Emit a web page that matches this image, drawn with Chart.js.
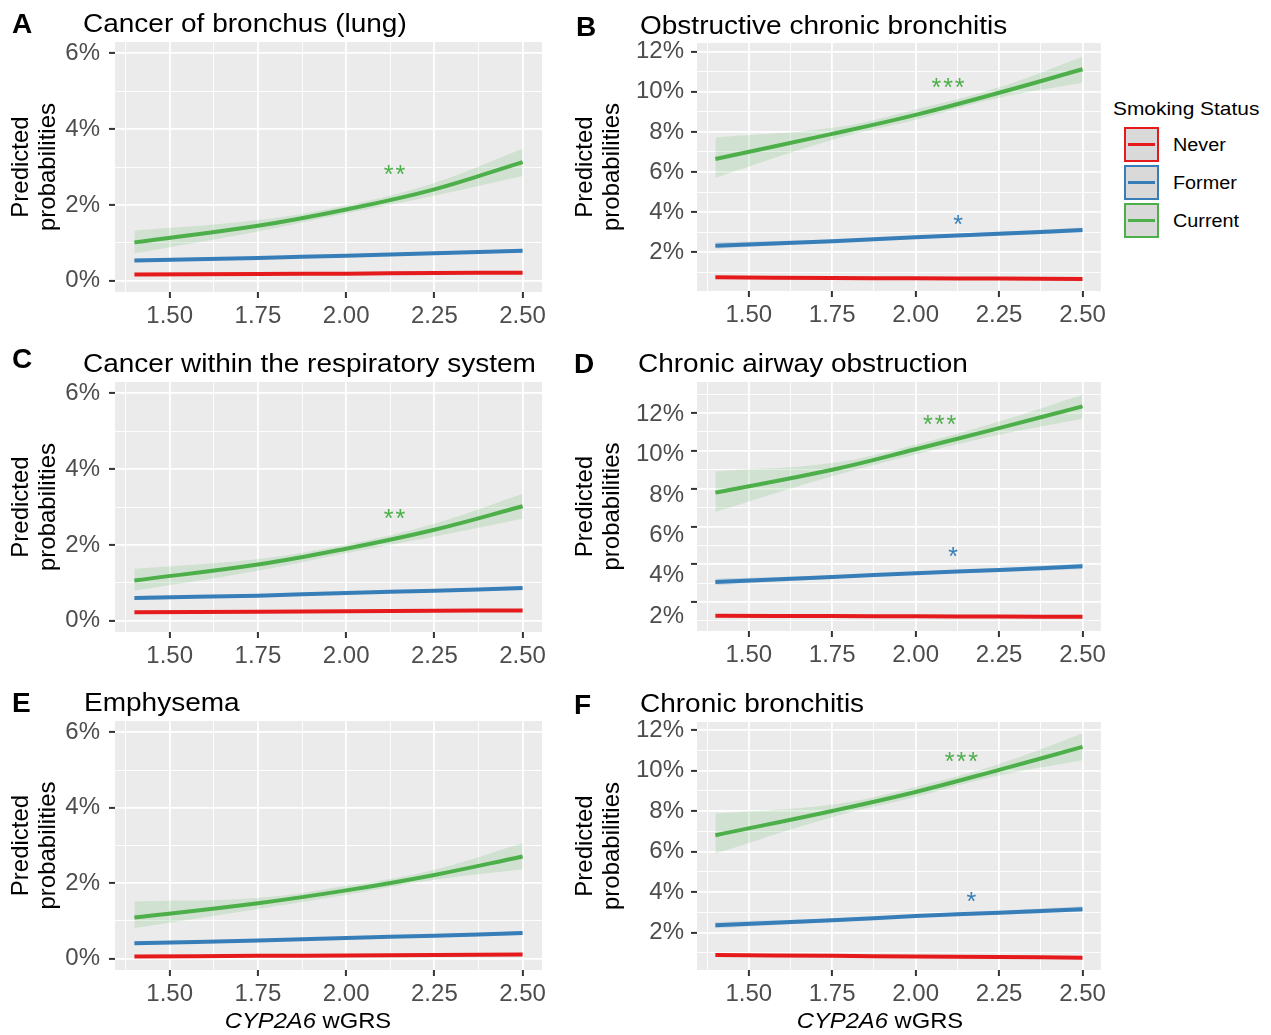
<!DOCTYPE html>
<html>
<head>
<meta charset="utf-8">
<script src="https://cdn.jsdelivr.net/npm/chart.js@4.4.1/dist/chart.umd.min.js"></script>
<style>
  body { margin: 0; background: #fff; width: 1271px; height: 1035px; position: relative; overflow: hidden;
         font-family: 'Liberation Sans', Arial, sans-serif; }
  canvas { position: absolute; }
  .txt { position: absolute; white-space: nowrap; line-height: 1; transform-origin: left center; }
  .letter { font-weight: bold; font-size: 28px; color: #000; transform: translateY(-50%); }
  .ttl { font-size: 25px; color: #000; transform: translateY(-50%) scaleX(1.12); }
  .xttl { font-size: 22px; color: #000; transform-origin: center center; transform: translate(-50%, -50%) scaleX(1.08); }
  .legT { font-size: 19px; color: #000; transform: translateY(-50%) scaleX(1.1); }
  .legL { font-size: 18px; color: #000; transform: translateY(-50%) scaleX(1.1); }
  .key { position: absolute; width: 31px; height: 31px; background: #D9D9D9; border: 2px solid; }
  .key div { position: absolute; left: 2px; right: 2px; top: 14px; height: 3px; }
</style>
</head>
<body>
<script>
// x positions (CYP2A6 wGRS) where the fitted curves were read
const xs = [1.4, 1.75, 2.0, 2.25, 2.5];

// tick values / labels
const xMajor = [1.5, 1.75, 2.0, 2.25, 2.5];
const xMinor = [1.375, 1.625, 1.875, 2.125, 2.375];
const xTickLabels = ['1.50', '1.75', '2.00', '2.25', '2.50'];
const yMajorLow = [0, 2, 4, 6];
const yMinorLow = [1, 3, 5];
const yLabelsLow = ['0%', '2%', '4%', '6%'];
const yMajorHigh = [2, 4, 6, 8, 10, 12];
const yMinorHigh = [1, 3, 5, 7, 9, 11, 13];
const yLabelsHigh = ['2%', '4%', '6%', '8%', '10%', '12%'];

// A - Cancer of bronchus (lung), values in %
const lungNever = [0.16, 0.175, 0.185, 0.20, 0.21];
const lungFormer = [0.53, 0.60, 0.66, 0.72, 0.79];
const lungFormerLo = [0.49, 0.58, 0.64, 0.69, 0.74];
const lungFormerHi = [0.58, 0.63, 0.68, 0.75, 0.84];
const lungCurrent = [1.01, 1.45, 1.88, 2.41, 3.13];
const lungCurrentLo = [0.72, 1.30, 1.77, 2.24, 2.76];
const lungCurrentHi = [1.32, 1.60, 1.99, 2.58, 3.48];
const lungStars = [{ x: 2.14, y: 2.91, text: '**', group: 'current' }];

// B - Obstructive chronic bronchitis
const obcNever = [0.75, 0.72, 0.70, 0.69, 0.67];
const obcFormer = [2.33, 2.55, 2.75, 2.92, 3.11];
const obcFormerLo = [2.18, 2.47, 2.68, 2.83, 2.98];
const obcFormerHi = [2.50, 2.64, 2.82, 3.02, 3.24];
const obcCurrent = [6.65, 7.90, 8.85, 9.95, 11.12];
const obcCurrentLo = [5.72, 7.60, 8.60, 9.70, 10.45];
const obcCurrentHi = [7.72, 8.20, 9.12, 10.22, 11.75];
const obcStars = [{ x: 2.10, y: 10.42, text: '***', group: 'current' }, { x: 2.13, y: 3.6, text: '*', group: 'former' }];

// C - Cancer within the respiratory system
const respNever = [0.22, 0.235, 0.245, 0.26, 0.27];
const respFormer = [0.60, 0.66, 0.73, 0.79, 0.86];
const respFormerLo = [0.55, 0.64, 0.71, 0.76, 0.81];
const respFormerHi = [0.65, 0.69, 0.75, 0.82, 0.91];
const respCurrent = [1.06, 1.48, 1.90, 2.40, 3.02];
const respCurrentLo = [0.79, 1.32, 1.78, 2.22, 2.69];
const respCurrentHi = [1.37, 1.63, 2.01, 2.56, 3.35];
const respStars = [{ x: 2.14, y: 2.82, text: '**', group: 'current' }];

// D - Chronic airway obstruction (values read against the grid lines)
const caoNever = [1.28, 1.26, 1.25, 1.235, 1.22];
const caoFormer = [3.06, 3.32, 3.53, 3.70, 3.89];
const caoFormerLo = [2.90, 3.24, 3.46, 3.60, 3.74];
const caoFormerHi = [3.24, 3.40, 3.60, 3.80, 4.04];
const caoCurrent = [7.79, 9.00, 10.08, 11.20, 12.35];
const caoCurrentLo = [6.76, 8.65, 9.80, 10.85, 11.70];
const caoCurrentHi = [8.91, 9.35, 10.33, 11.55, 12.97];
const caoStars = [{ x: 2.075, y: 11.6, text: '***', group: 'current' }, { x: 2.115, y: 4.63, text: '*', group: 'former' }];

// E - Emphysema
const empNever = [0.06, 0.075, 0.085, 0.10, 0.11];
const empFormer = [0.41, 0.48, 0.55, 0.61, 0.68];
const empFormerLo = [0.37, 0.46, 0.53, 0.58, 0.63];
const empFormerHi = [0.46, 0.50, 0.57, 0.64, 0.73];
const empCurrent = [1.09, 1.47, 1.81, 2.22, 2.71];
const empCurrentLo = [0.81, 1.32, 1.69, 2.09, 2.37];
const empCurrentHi = [1.52, 1.61, 1.93, 2.36, 3.06];
const empStars = [];

// F - Chronic bronchitis
const cbNever = [0.88, 0.84, 0.81, 0.78, 0.75];
const cbFormer = [2.36, 2.60, 2.81, 2.97, 3.15];
const cbFormerLo = [2.20, 2.51, 2.74, 2.88, 3.02];
const cbFormerHi = [2.52, 2.69, 2.88, 3.07, 3.29];
const cbCurrent = [6.81, 8.01, 8.95, 10.04, 11.18];
const cbCurrentLo = [5.90, 7.70, 8.70, 9.76, 10.52];
const cbCurrentHi = [7.88, 8.33, 9.20, 10.33, 11.84];
const cbStars = [{ x: 2.14, y: 10.65, text: '***', group: 'current' }, { x: 2.17, y: 3.76, text: '*', group: 'former' }];

const groups = ['Never', 'Former', 'Current'];
const COLORS = { never: '#E41A1C', former: '#377EB8', current: '#4DAF4A' };
const BANDS = { former: 'rgba(55,126,184,0.18)', current: 'rgba(77,175,74,0.16)' };
const FONT = "'Liberation Sans', Arial, sans-serif";

// grey panel background like ggplot
const panelBg = {
    id: 'panelBg',
    beforeDraw(chart) {
        const { ctx, chartArea: a } = chart;
        ctx.save();
        ctx.fillStyle = '#EBEBEB';
        ctx.fillRect(a.left, a.top, a.right - a.left, a.bottom - a.top);
        ctx.restore();
    }
};

// significance stars, placed through the chart scales
const starNotes = {
    id: 'starNotes',
    afterDatasetsDraw(chart, args, opts) {
        const ctx = chart.ctx;
        (opts.items || []).forEach(s => {
            ctx.save();
            ctx.fillStyle = COLORS[s.group];
            ctx.font = '25px ' + FONT;
            ctx.textAlign = 'center';
            ctx.textBaseline = 'middle';
            ctx.letterSpacing = '2px';
            ctx.fillText(s.text, chart.scales.x.getPixelForValue(s.x), chart.scales.y.getPixelForValue(s.y) + 6);
            ctx.restore();
        });
    }
};
Chart.register(panelBg, starNotes);

const pts = arr => xs.map((x, i) => ({ x: x, y: arr[i] }));

function tickList(major, minor, min, max) {
    return major.map(v => ({ value: v, minor: false }))
        .concat(minor.map(v => ({ value: v, minor: true })))
        .filter(t => t.value >= min && t.value <= max)
        .sort((a, b) => a.value - b.value);
}

function gridOpts() {
    return {
        color: '#FFFFFF',
        lineWidth: c => (c.tick && c.tick.minor) ? 0.9 : 1.8,
        drawTicks: true,
        tickLength: 6,
        tickWidth: 2,
        tickColor: c => (c.tick && c.tick.minor) ? 'rgba(0,0,0,0)' : '#333333'
    };
}

function curve(arr, extra) {
    return Object.assign({ data: pts(arr), pointRadius: 0, tension: 0.4 }, extra);
}

function makePanel(p) {
    const canvas = document.createElement('canvas');
    canvas.width = p.w;
    canvas.height = p.h;
    canvas.style.left = p.left + 'px';
    canvas.style.top = p.top + 'px';
    document.body.appendChild(canvas);

    const datasets = [
        curve(p.current, { borderColor: COLORS.current, borderWidth: 4, fill: false, order: 0 }),
        curve(p.former, { borderColor: COLORS.former, borderWidth: 4, fill: false, order: 0 }),
        curve(p.never, { borderColor: COLORS.never, borderWidth: 4, fill: false, order: 0 }),
        curve(p.currentHi, { fill: '+1', backgroundColor: BANDS.current, borderWidth: 0, order: 1 }),
        curve(p.currentLo, { fill: false, borderWidth: 0, order: 1 }),
        curve(p.formerHi, { fill: '+1', backgroundColor: BANDS.former, borderWidth: 0, order: 1 }),
        curve(p.formerLo, { fill: false, borderWidth: 0, order: 1 })
    ];

    const yTitle = {
        display: true,
        text: ['Predicted', 'probabilities'],
        color: '#000',
        font: { family: FONT, size: 24, lineHeight: 1.12 },
        padding: { top: p.titlePad, bottom: 0 }
    };
    const tickFont = { family: FONT, size: 24 };

    const scales = {
        x: {
            type: 'linear', min: 1.345, max: 2.555,
            afterBuildTicks: ax => { ax.ticks = tickList(xMajor, xMinor, 1.345, 2.555); },
            afterFit: ax => { ax.height = p.xH; },
            ticks: {
                autoSkip: false, maxRotation: 0, color: '#4D4D4D', font: tickFont, padding: 4,
                callback: v => { const i = xMajor.indexOf(v); return i >= 0 ? xTickLabels[i] : ''; }
            },
            grid: gridOpts(),
            border: { display: false }
        },
        y: {
            type: 'linear', position: 'left', min: p.yMin, max: p.yMax, weight: 0,
            afterBuildTicks: ax => { ax.ticks = tickList(p.yMajor, p.yMinor, p.yMin, p.yMax); },
            afterFit: ax => { ax.width = p.labMin !== undefined ? 6 : p.yW; },
            ticks: {
                display: p.labMin === undefined,
                autoSkip: false, color: '#4D4D4D', font: tickFont, padding: p.tickPad,
                callback: v => { const i = p.yMajor.indexOf(v); return i >= 0 ? p.yLabels[i] : ''; }
            },
            title: p.labMin === undefined ? yTitle : { display: false },
            grid: gridOpts(),
            border: { display: false }
        }
    };

    // panel D: its printed labels sit on a slightly different spacing from its tick marks
    if (p.labMin !== undefined) {
        scales.yLab = {
            type: 'linear', position: 'left', min: p.labMin, max: p.labMax, weight: 1,
            afterBuildTicks: ax => { ax.ticks = tickList(p.yMajor, [], p.labMin, p.labMax); },
            afterFit: ax => { ax.width = p.yW - 6; },
            ticks: {
                autoSkip: false, color: '#4D4D4D', font: tickFont, padding: p.tickPad,
                callback: v => { const i = p.yMajor.indexOf(v); return i >= 0 ? p.yLabels[i] : ''; }
            },
            title: yTitle,
            grid: { display: false, drawTicks: false },
            border: { display: false }
        };
    }

    new Chart(canvas.getContext('2d'), {
        type: 'line',
        data: { datasets: datasets },
        options: {
            responsive: false,
            animation: false,
            devicePixelRatio: 1,
            layout: { padding: { top: p.padTop, right: p.padRight, left: 0, bottom: 0 } },
            plugins: { legend: { display: false }, tooltip: { enabled: false }, starNotes: { items: p.stars } },
            scales: scales
        }
    });
}

const low = { yMajor: yMajorLow, yMinor: yMinorLow, yLabels: yLabelsLow, yMin: -0.3, yMax: 6.3 };
const high = { yMajor: yMajorHigh, yMinor: yMinorHigh, yLabels: yLabelsHigh };
const leftCol = { left: 0, w: 560, h: 340, yW: 115, padRight: 18, titlePad: 8, tickPad: 9 };
const rightCol = { left: 560, w: 550, h: 340, yW: 137, padRight: 3, titlePad: 12, tickPad: 7 };

makePanel(Object.assign({}, leftCol, low, { top: 0, padTop: 42, xH: 48,
    never: lungNever, former: lungFormer, formerLo: lungFormerLo, formerHi: lungFormerHi,
    current: lungCurrent, currentLo: lungCurrentLo, currentHi: lungCurrentHi, stars: lungStars }));
makePanel(Object.assign({}, rightCol, high, { top: 0, padTop: 43, xH: 49, yMin: 0.07, yMax: 12.43,
    never: obcNever, former: obcFormer, formerLo: obcFormerLo, formerHi: obcFormerHi,
    current: obcCurrent, currentLo: obcCurrentLo, currentHi: obcCurrentHi, stars: obcStars }));
makePanel(Object.assign({}, leftCol, low, { top: 340, padTop: 42, xH: 48,
    never: respNever, former: respFormer, formerLo: respFormerLo, formerHi: respFormerHi,
    current: respCurrent, currentLo: respCurrentLo, currentHi: respCurrentHi, stars: respStars }));
makePanel(Object.assign({}, rightCol, high, { top: 340, padTop: 42, xH: 49, yMin: 0.47, yMax: 13.64, labMin: 1.27, labMax: 13.6,
    never: caoNever, former: caoFormer, formerLo: caoFormerLo, formerHi: caoFormerHi,
    current: caoCurrent, currentLo: caoCurrentLo, currentHi: caoCurrentHi, stars: caoStars }));
makePanel(Object.assign({}, leftCol, low, { top: 680, padTop: 41, xH: 50,
    never: empNever, former: empFormer, formerLo: empFormerLo, formerHi: empFormerHi,
    current: empCurrent, currentLo: empCurrentLo, currentHi: empCurrentHi, stars: empStars }));
makePanel(Object.assign({}, rightCol, high, { top: 680, padTop: 42, xH: 50, yMin: 0.14, yMax: 12.41,
    never: cbNever, former: cbFormer, formerLo: cbFormerLo, formerHi: cbFormerHi,
    current: cbCurrent, currentLo: cbCurrentLo, currentHi: cbCurrentHi, stars: cbStars }));

// text around the panels
function addText(cls, text, x, y, html) {
    const d = document.createElement('div');
    d.className = 'txt ' + cls;
    if (html) d.innerHTML = text; else d.textContent = text;
    d.style.left = x + 'px';
    d.style.top = y + 'px';
    document.body.appendChild(d);
}
const letters = [['A', 12, 24], ['B', 576, 27], ['C', 12, 359], ['D', 574, 364], ['E', 12, 703], ['F', 574, 705]];
letters.forEach(l => addText('letter', l[0], l[1], l[2]));
const titles = [
    ['Cancer of bronchus (lung)', 83, 23],
    ['Obstructive chronic bronchitis', 640, 25],
    ['Cancer within the respiratory system', 83, 363],
    ['Chronic airway obstruction', 638, 363],
    ['Emphysema', 84, 702],
    ['Chronic bronchitis', 640, 703]
];
titles.forEach(t => addText('ttl', t[0], t[1], t[2]));
addText('xttl', '<i>CYP2A6</i> wGRS', 308, 1021, true);
addText('xttl', '<i>CYP2A6</i> wGRS', 880, 1021, true);

// legend
addText('legT', 'Smoking Status', 1113, 108);
groups.forEach((g, i) => {
    const col = COLORS[g.toLowerCase()];
    const k = document.createElement('div');
    k.className = 'key';
    k.style.left = '1124px';
    k.style.top = (127 + i * 38) + 'px';
    k.style.borderColor = col;
    const line = document.createElement('div');
    line.style.background = col;
    k.appendChild(line);
    document.body.appendChild(k);
    addText('legL', g, 1173, 145 + i * 38);
});
</script>
</body>
</html>
